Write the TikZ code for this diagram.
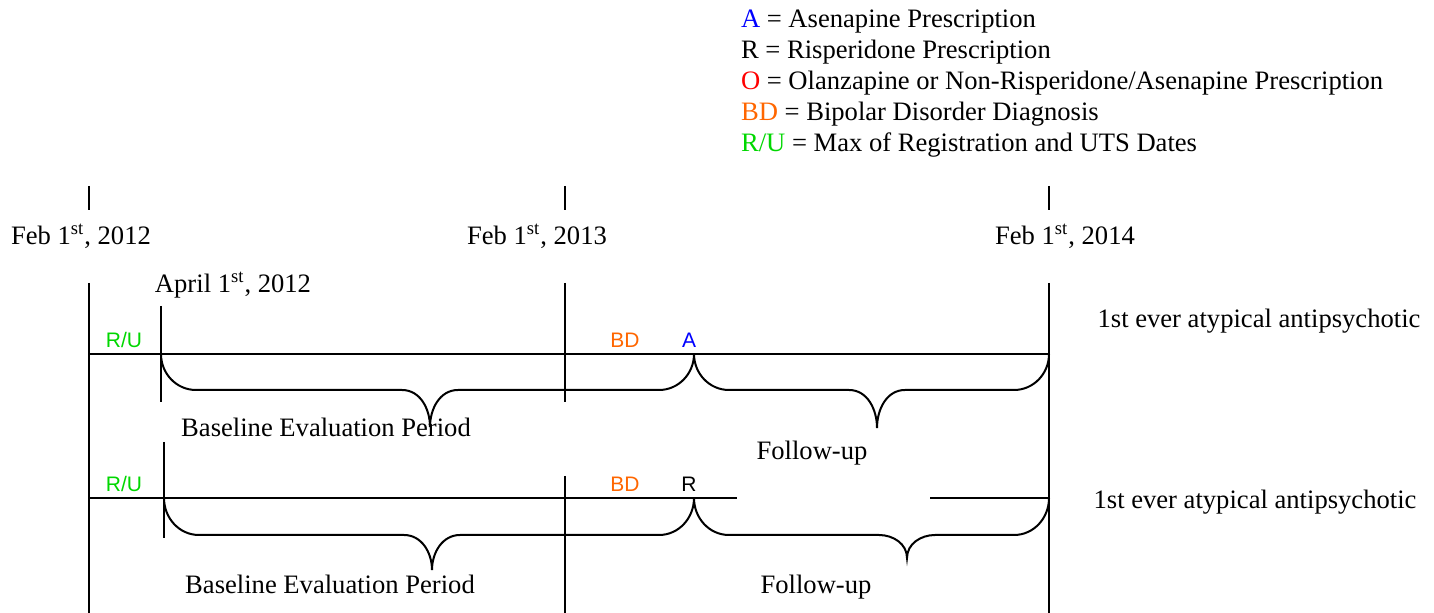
\documentclass[tikz,border=0pt]{standalone}
\usepackage{fontspec}
\setmainfont{Liberation Serif}
\newfontfamily\markfont{Liberation Sans}

\definecolor{clrA}{RGB}{0,0,255}
\definecolor{clrO}{RGB}{255,0,0}
\definecolor{clrBD}{RGB}{255,102,0}
\definecolor{clrRU}{RGB}{0,215,0}

\tikzset{
  txtlbl/.style={anchor=base, inner sep=0pt, font=\fontsize{13.3}{16}\selectfont},
  leglbl/.style={txtlbl, anchor=base west},
  marklbl/.style={anchor=base, inner sep=0pt, font=\markfont\fontsize{10.5}{12}\selectfont},
}

% brace below a time line: x1, x2, xtip, ytop, yflat, ytip
\newcommand{\tlbrace}[6]{%
  \draw (#1,#4) to[out=-90,in=180] (#1+35,#5) -- (#3-28,#5)
    to[out=0,in=90] (#3,#6) to[out=90,in=180] (#3+28,#5)
    -- (#2-35,#5) to[out=0,in=-90] (#2,#4) ;
}

\begin{document}
\begin{tikzpicture}[x=0.5pt,y=-0.5pt,line width=1pt]

\useasboundingbox (0,0) rectangle (1434,613) ;

\node[leglbl] (legA) at (740,28) {\textcolor{clrA}{A} = Asenapine Prescription} ;
\node[leglbl] (legR) at (740,59) {R = Risperidone Prescription} ;
\node[leglbl] (legO) at (740,90) {\textcolor{clrO}{O} = Olanzapine or Non-Risperidone/Asenapine Prescription} ;
\node[leglbl] (legBD) at (740,121) {\textcolor{clrBD}{BD} = Bipolar Disorder Diagnosis} ;
\node[leglbl] (legRU) at (740,152) {\textcolor{clrRU}{R/U} = Max of Registration and UTS Dates} ;

\draw (89,186) -- (89,210) ;
\draw (565,186) -- (565,210) ;
\draw (1049,186) -- (1049,210) ;

\node[txtlbl] (feb12) at (81,245) {Feb 1\textsuperscript{st}, 2012} ;
\node[txtlbl] (feb13) at (537,245) {Feb 1\textsuperscript{st}, 2013} ;
\node[txtlbl] (feb14) at (1065,245) {Feb 1\textsuperscript{st}, 2014} ;
\node[txtlbl] (apr12) at (233,293) {April 1\textsuperscript{st}, 2012} ;

\draw (89,283) -- (89,613) ;
\draw (565,283) -- (565,402) ;
\draw (565,476) -- (565,613) ;
\draw (1049,283) -- (1049,613) ;

\draw (89,354) -- (1049,354) ;
\draw (161,306) -- (161,402) ;

\node[marklbl, clrRU] (ru1) at (124,348) {R/U} ;
\node[marklbl, clrBD] (bd1) at (625,348) {BD} ;
\node[marklbl, clrA] (pa1) at (689,348) {A} ;

\tlbrace{161}{694}{430}{354}{390}{427}
\tlbrace{694}{1049}{877}{354}{390}{428}

\node[txtlbl] (base1) at (326,437) {Baseline Evaluation Period} ;
\node[txtlbl] (fup1) at (812,460) {Follow-up} ;
\node[txtlbl] (first1) at (1259,328) {1st ever atypical antipsychotic} ;

\draw (89,498) -- (737,498) ;
\draw (930,498) -- (1049,498) ;
\draw (164,442) -- (164,538) ;

\node[marklbl, clrRU] (ru2) at (124,492) {R/U} ;
\node[marklbl, clrBD] (bd2) at (625,492) {BD} ;
\node[marklbl] (pr2) at (689,492) {R} ;

\tlbrace{164}{694}{432}{498}{535}{570}
\tlbrace{694}{1049}{907}{498}{535}{558}

\node[txtlbl] (base2) at (330,594) {Baseline Evaluation Period} ;
\node[txtlbl] (fup2) at (816,594) {Follow-up} ;
\node[txtlbl] (first2) at (1255,509) {1st ever atypical antipsychotic} ;

\end{tikzpicture}
\end{document}
